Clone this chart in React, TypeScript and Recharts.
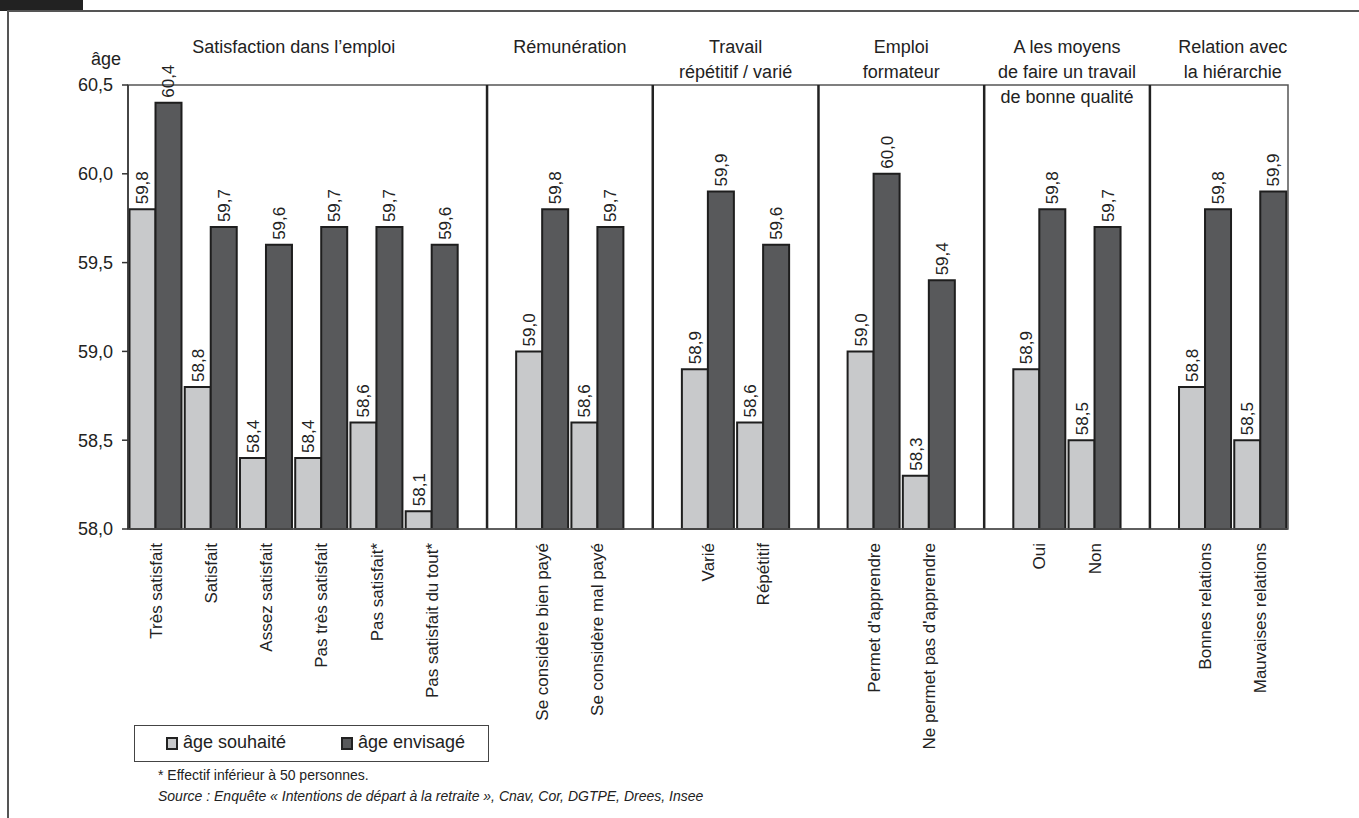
import React from "react";
import {
  Bar,
  BarChart,
  LabelList,
  ReferenceArea,
  ReferenceLine,
  XAxis,
  YAxis,
} from "recharts";

const groupTitles = [
  ["Satisfaction dans l’emploi"],
  ["Rémunération"],
  ["Travail", "répétitif / varié"],
  ["Emploi", "formateur"],
  ["A les moyens", "de faire un travail", "de bonne qualité"],
  ["Relation avec", "la hiérarchie"],
];

const groupCategories = [
  ["Très satisfait", "Satisfait", "Assez satisfait", "Pas très satisfait", "Pas satisfait*", "Pas satisfait du tout*"],
  ["Se considère bien payé", "Se considère mal payé"],
  ["Varié", "Répétitif"],
  ["Permet d'apprendre", "Ne permet pas d'apprendre"],
  ["Oui", "Non"],
  ["Bonnes relations", "Mauvaises relations"],
];

const ageSouhaite = [
  [59.8, 58.8, 58.4, 58.4, 58.6, 58.1],
  [59.0, 58.6],
  [58.9, 58.6],
  [59.0, 58.3],
  [58.9, 58.5],
  [58.8, 58.5],
];

const ageEnvisage = [
  [60.4, 59.7, 59.6, 59.7, 59.7, 59.6],
  [59.8, 59.7],
  [59.9, 59.6],
  [60.0, 59.4],
  [59.8, 59.7],
  [59.8, 59.9],
];

const yTicks = [58, 58.5, 59, 59.5, 60, 60.5];

// one row per category, with an empty row between groups for the separator
const gapNames: string[] = [];
const rows: { name: string; souhaite: number | null; envisage: number | null }[] = [];
groupCategories.forEach((cats, g) => {
  if (g > 0) {
    const gap = "_g" + g;
    gapNames.push(gap);
    rows.push({ name: gap, souhaite: null, envisage: null });
  }
  cats.forEach((c, i) => {
    rows.push({ name: c, souhaite: ageSouhaite[g][i], envisage: ageEnvisage[g][i] });
  });
});

const FONT = "'Liberation Sans', Arial, sans-serif";
const fmt = (v: number) => v.toFixed(1).replace(".", ",");

function CatTick(props: any) {
  const { x, y, payload } = props;
  if (String(payload.value).startsWith("_")) return null;
  return (
    <text
      transform={`translate(${x},${y + 14}) rotate(-90)`}
      textAnchor="end"
      dy="0.35em"
      fontSize={17}
      fill="#222"
      fontFamily={FONT}
    >
      {payload.value}
    </text>
  );
}

function ValueLabel(props: any) {
  const { x, y, width, value } = props;
  if (value == null) return null;
  return (
    <text
      transform={`translate(${x + width / 2},${y - 5}) rotate(-90)`}
      textAnchor="start"
      dy="0.35em"
      fontSize={17}
      fill="#222"
      fontFamily={FONT}
    >
      {fmt(value)}
    </text>
  );
}

function GroupTitle(props: any) {
  const { viewBox, lines } = props;
  const cx = viewBox.x + viewBox.width / 2;
  return (
    <text textAnchor="middle" fontSize={18} fill="#222" fontFamily={FONT}>
      {lines.map((l: string, i: number) => (
        <tspan key={i} x={cx} y={viewBox.y - 32 + i * 25}>
          {l}
        </tspan>
      ))}
    </text>
  );
}

export default function App() {
  return (
    <div
      style={{
        position: "absolute",
        left: 0,
        top: 0,
        width: 1359,
        height: 818,
        background: "#fff",
        fontFamily: FONT,
        color: "#222",
        overflow: "hidden",
      }}
    >
      {/* page frame */}
      <div style={{ position: "absolute", left: 0, top: 0, width: 83, height: 11, background: "#222" }} />
      <div style={{ position: "absolute", left: 8, top: 10, width: 1351, height: 2, background: "#555" }} />
      <div style={{ position: "absolute", left: 7, top: 10, width: 2, height: 808, background: "#555" }} />

      <BarChart
        width={1359}
        height={818}
        data={rows}
        margin={{ top: 85, right: 71, bottom: 39, left: 68 }}
        barCategoryGap={1.5}
        barGap={0}
        style={{ position: "absolute", left: 0, top: 0 }}
      >
        <ReferenceArea y1={58} y2={60.5} fill="none" stroke="#555" strokeWidth={1.5} />
        {groupCategories.map((cats, g) => (
          <ReferenceArea
            key={"t" + g}
            x1={cats[0]}
            x2={cats[cats.length - 1]}
            y1={60.45}
            y2={60.5}
            fill="none"
            stroke="none"
            ifOverflow="visible"
            label={<GroupTitle lines={groupTitles[g]} />}
          />
        ))}
        <XAxis
          dataKey="name"
          interval={0}
          height={250}
          tick={<CatTick />}
          tickLine={false}
          tickSize={0}
          tickMargin={0}
          axisLine={{ stroke: "#555", strokeWidth: 1.5 }}
        />
        <YAxis
          type="number"
          domain={[58, 60.5]}
          ticks={yTicks}
          width={60}
          tickFormatter={fmt}
          tick={{ fontSize: 18, fill: "#222", fontFamily: FONT }}
          tickSize={6}
          tickMargin={9}
          axisLine={{ stroke: "#333", strokeWidth: 1.5 }}
          tickLine={{ stroke: "#333", strokeWidth: 1.5 }}
        />
        <Bar dataKey="souhaite" fill="#c8c9cb" stroke="#1e1e1e" strokeWidth={2} isAnimationActive={false}>
          <LabelList dataKey="souhaite" content={<ValueLabel />} />
        </Bar>
        <Bar dataKey="envisage" fill="#58595b" stroke="#1e1e1e" strokeWidth={2} isAnimationActive={false}>
          <LabelList dataKey="envisage" content={<ValueLabel />} />
        </Bar>
        {gapNames.map((g) => (
          <ReferenceLine key={g} x={g} stroke="#222" strokeWidth={2.5} />
        ))}
      </BarChart>

      <div style={{ position: "absolute", left: 91, top: 49, fontSize: 18 }}>âge</div>

      {/* legend */}
      <div
        style={{
          position: "absolute",
          left: 134,
          top: 725,
          width: 355,
          height: 37,
          border: "1.5px solid #444",
          boxSizing: "border-box",
          fontSize: 18,
        }}
      >
        <div style={{ position: "absolute", left: 31, top: 11, width: 12, height: 13, background: "#c8c9cb", border: "2px solid #222", boxSizing: "border-box" }} />
        <div style={{ position: "absolute", left: 48, top: 6, whiteSpace: "nowrap" }}>âge souhaité</div>
        <div style={{ position: "absolute", left: 206, top: 11, width: 12, height: 13, background: "#58595b", border: "2px solid #222", boxSizing: "border-box" }} />
        <div style={{ position: "absolute", left: 223, top: 6, whiteSpace: "nowrap" }}>âge envisagé</div>
      </div>

      <div style={{ position: "absolute", left: 158, top: 767, fontSize: 14, whiteSpace: "nowrap" }}>
        * Effectif inférieur à 50 personnes.
      </div>
      <div style={{ position: "absolute", left: 158, top: 788, fontSize: 14, fontStyle: "italic", whiteSpace: "nowrap" }}>
        Source : Enquête « Intentions de départ à la retraite », Cnav, Cor, DGTPE, Drees, Insee
      </div>
    </div>
  );
}
